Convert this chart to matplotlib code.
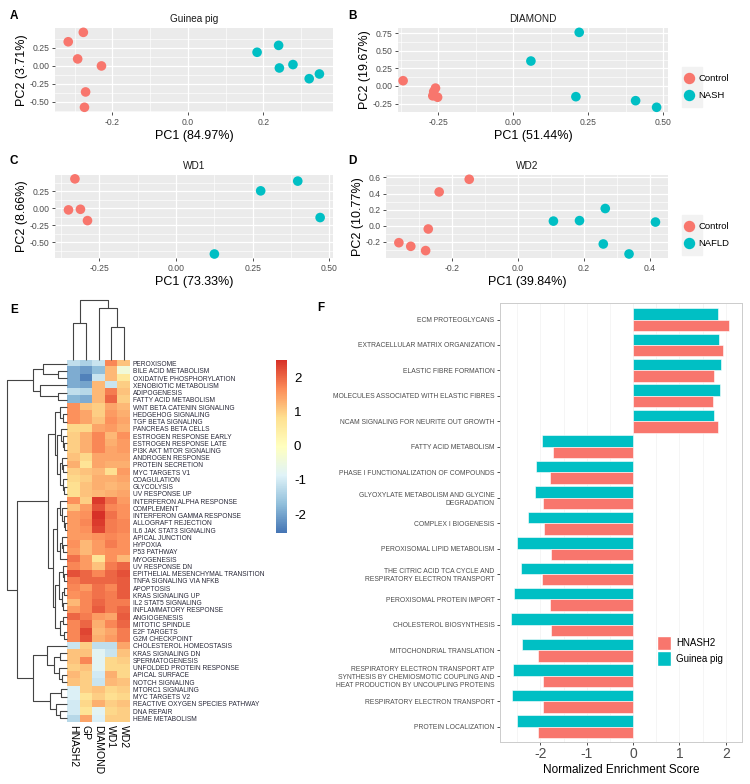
import matplotlib
matplotlib.use("Agg")
import matplotlib.pyplot as plt
import numpy as np
from matplotlib.colors import LinearSegmentedColormap, Normalize
from matplotlib.patches import Patch, Rectangle
from matplotlib.lines import Line2D

plt.rcParams['font.family'] = ['Liberation Sans', 'DejaVu Sans']

W, H = 750, 784
RED = '#F8766D'
TEAL = '#00BFC4'

# ---- PCA panels (PC1, PC2) ----
gp_ctrl_x = [-0.277, -0.317, -0.292, -0.229, -0.271, -0.274]
gp_ctrl_y = [0.46, 0.33, 0.093, -0.004, -0.363, -0.575]
gp_nash_x = [0.183, 0.240, 0.242, 0.278, 0.321, 0.348]
gp_nash_y = [0.185, 0.28, -0.032, 0.015, -0.18, -0.115]

dia_ctrl_x = [-0.367, -0.259, -0.265, -0.268, -0.252]
dia_ctrl_y = [0.075, -0.03, -0.08, -0.14, -0.16]
dia_nash_x = [0.22, 0.059, 0.209, 0.408, 0.478]
dia_nash_y = [0.763, 0.355, -0.152, -0.209, -0.303]

wd1_ctrl_x = [-0.33, -0.351, -0.312, -0.289]
wd1_ctrl_y = [0.433, -0.025, -0.016, -0.183]
wd1_nafld_x = [0.397, 0.276, 0.47, 0.125]
wd1_nafld_y = [0.40, 0.256, -0.138, -0.676]

wd2_ctrl_x = [-0.147, -0.238, -0.271, -0.36, -0.324, -0.279]
wd2_ctrl_y = [0.577, 0.42, -0.04, -0.21, -0.255, -0.308]
wd2_nafld_x = [0.108, 0.187, 0.265, 0.417, 0.259, 0.337]
wd2_nafld_y = [0.058, 0.064, 0.214, 0.046, -0.226, -0.35]

# ---- heatmap (E) ----
hallmarks = ["PEROXISOME", "BILE ACID METABOLISM", "OXIDATIVE PHOSPHORYLATION",
             "XENOBIOTIC METABOLISM", "ADIPOGENESIS", "FATTY ACID METABOLISM",
             "WNT BETA CATENIN SIGNALING", "HEDGEHOG SIGNALING", "TGF BETA SIGNALING",
             "PANCREAS BETA CELLS", "ESTROGEN RESPONSE EARLY", "ESTROGEN RESPONSE LATE",
             "PI3K AKT MTOR SIGNALING", "ANDROGEN RESPONSE", "PROTEIN SECRETION",
             "MYC TARGETS V1", "COAGULATION", "GLYCOLYSIS", "UV RESPONSE UP",
             "INTERFERON ALPHA RESPONSE", "COMPLEMENT", "INTERFERON GAMMA RESPONSE",
             "ALLOGRAFT REJECTION", "IL6 JAK STAT3 SIGNALING", "APICAL JUNCTION",
             "HYPOXIA", "P53 PATHWAY", "MYOGENESIS", "UV RESPONSE DN",
             "EPITHELIAL MESENCHYMAL TRANSITION", "TNFA SIGNALING VIA NFKB", "APOPTOSIS",
             "KRAS SIGNALING UP", "IL2 STAT5 SIGNALING", "INFLAMMATORY RESPONSE",
             "ANGIOGENESIS", "MITOTIC SPINDLE", "E2F TARGETS", "G2M CHECKPOINT",
             "CHOLESTEROL HOMEOSTASIS", "KRAS SIGNALING DN", "SPERMATOGENESIS",
             "UNFOLDED PROTEIN RESPONSE", "APICAL SURFACE", "NOTCH SIGNALING",
             "MTORC1 SIGNALING", "MYC TARGETS V2", "REACTIVE OXYGEN SPECIES PATHWAY",
             "DNA REPAIR", "HEME METABOLISM"]
models = ["HNASH2", "GP", "DIAMOND", "WD1", "WD2"]

nes_hnash2 = [-1.2, -1.9, -1.9, -1.9, -1.2, -1.8, 1.6, 1.6, 1.6, 0.9, 1.0, 1.0, 1.0, 1.1, 1.3,
              1.0, 0.9, 0.8, 0.8, 1.6, 1.1, 1.5, 1.5, 1.5, 1.5, 1.6, 1.5, 1.9, 1.7, 2.2, 1.8,
              1.7, 1.6, 1.2, 1.5, 2.0, 1.7, 1.7, 1.7, -1.1, 1.1, 1.1, 1.0, 1.2, 1.1, -0.9,
              -0.9, -1.0, -1.0, -1.3]
nes_gp = [-1.4, -2.1, -2.4, -2.0, -1.3, -1.9, 1.1, 1.4, 1.4, 0.9, 1.3, 1.3, 1.3, 0.9, 0.7,
          1.1, 1.0, 1.1, 1.1, 1.0, 1.5, 1.6, 1.7, 1.6, 1.5, 1.2, 1.2, 1.5, 1.5, 2.0, 2.0,
          1.5, 1.7, 1.7, 1.7, 1.8, 2.0, 2.3, 2.2, 1.0, 1.1, 1.7, 1.1, 1.0, 1.0, 1.0, 0.7,
          0.9, 0.7, 1.4]
nes_diamond = [-1.1, -1.7, -1.1, 1.2, 1.2, 1.2, 1.0, 1.0, 1.1, 1.4, 1.7, 1.7, 1.7, 1.4, 1.4,
               1.2, 1.3, 1.3, 1.2, 2.4, 2.2, 2.5, 2.4, 2.3, 1.6, 1.5, 1.5, 0.7, 1.1, 1.7, 2.0,
               1.9, 1.9, 2.0, 2.1, 1.5, 1.3, 1.2, 1.3, -1.2, -0.8, -0.8, -0.8, -1.0, -1.1,
               1.1, 1.0, 1.3, -0.8, -0.9]
nes_wd1 = [1.7, 1.2, 1.2, -1.1, 1.8, 2.0, 1.4, 1.5, 1.6, 1.5, 1.2, 1.3, 1.4, 1.4, 1.3, 0.8,
           1.3, 1.2, 1.3, 1.9, 1.7, 1.9, 1.8, 1.8, 1.7, 1.8, 1.6, 1.6, 1.8, 2.0, 2.0, 1.7,
           1.8, 1.8, 1.8, 1.4, 1.7, 1.4, 1.5, -1.2, -1.1, 0.9, 0.9, 1.3, 1.2, 0.9, 0.8, 1.0,
           0.9, 1.0]
nes_wd2 = [1.1, -0.4, 0.6, 1.0, 1.1, 1.0, 1.2, 1.3, 1.4, 1.3, 1.6, 1.5, 1.5, 1.4, 1.3, 1.5,
           1.4, 1.3, 1.4, 1.5, 1.6, 1.6, 1.7, 1.7, 1.6, 1.6, 1.6, 1.2, 2.0, 2.2, 2.1, 2.1,
           2.1, 1.8, 2.0, 2.1, 2.0, 1.8, 1.8, 1.4, 1.1, 1.0, 0.9, 0.9, 1.1, 1.0, 0.9, 1.1,
           1.0, 1.0]

# dendrograms: (merge height, left, right); leaves are row / column indices
row_tree = (1.0,
            (0.57, (0.40, 0, (0.15, 1, 2)), (0.45, 3, (0.15, 4, 5))),
            (0.83,
             (0.32,
              (0.20, (0.12, 6, (0.07, 7, 8)),
               (0.17, (0.10, 9, (0.07, 10, (0.05, 11, 12))),
                (0.12, (0.08, 13, (0.06, 14, 15)), (0.07, 16, (0.05, 17, 18))))),
              (0.24,
               (0.17, (0.11, 19, (0.08, 20, (0.05, 21, (0.04, 22, 23)))),
                (0.12, (0.08, 24, (0.06, 25, 26)), 27)),
               (0.20, (0.13, (0.07, 28, (0.05, 29, 30)),
                       (0.09, (0.05, 31, 32), (0.06, 33, 34))),
                (0.11, (0.07, 35, 36), (0.05, 37, 38))))),
             (0.57, (0.33, 39, (0.22, (0.12, 40, 41), (0.13, 42, (0.08, 43, 44)))),
              (0.28, (0.10, 45, 46), (0.18, 47, (0.12, 48, 49))))))
col_tree = (1.0, (0.62, 0, 1), (0.87, 2, (0.55, 3, 4)))

# ---- NES bar chart (F) ----
pathways = ["ECM PROTEOGLYCANS", "EXTRACELLULAR MATRIX ORGANIZATION",
            "ELASTIC FIBRE FORMATION", "MOLECULES ASSOCIATED WITH ELASTIC FIBRES",
            "NCAM SIGNALING FOR NEURITE OUT GROWTH", "FATTY ACID METABOLISM",
            "PHASE I FUNCTIONALIZATION OF COMPOUNDS",
            "GLYOXYLATE METABOLISM AND GLYCINE\nDEGRADATION", "COMPLEX I BIOGENESIS",
            "PEROXISOMAL LIPID METABOLISM",
            "THE CITRIC ACID TCA CYCLE AND\nRESPIRATORY ELECTRON TRANSPORT",
            "PEROXISOMAL PROTEIN IMPORT", "CHOLESTEROL BIOSYNTHESIS",
            "MITOCHONDRIAL TRANSLATION",
            "RESPIRATORY ELECTRON TRANSPORT ATP\nSYNTHESIS BY CHEMIOSMOTIC COUPLING AND\n"
            "HEAT PRODUCTION BY UNCOUPLING PROTEINS",
            "RESPIRATORY ELECTRON TRANSPORT", "PROTEIN LOCALIZATION"]
nes_guinea = [1.83, 1.85, 1.89, 1.87, 1.74, -1.96, -2.09, -2.11, -2.26, -2.50, -2.41,
              -2.56, -2.63, -2.40, -2.58, -2.61, -2.50]
nes_hnash2_f = [2.07, 1.94, 1.74, 1.72, 1.83, -1.72, -1.79, -1.95, -1.93, -1.78, -1.96,
                -1.80, -1.78, -2.04, -1.94, -1.94, -2.06]


def px_box(l, t, r, b):
    return [l / W, 1 - b / H, (r - l) / W, (b - t) / H]


def minor_of(ticks, lo, hi):
    step = ticks[1] - ticks[0]
    m = [t + step / 2 for t in ticks] + [ticks[0] - step / 2]
    return [v for v in m if lo <= v <= hi]


def pca_panel(box, cx, cy, nx, ny, xlim, ylim, xt, yt, xd, yd, title, xlab, ylab):
    ax = fig.add_axes(px_box(*box))
    ax.set_facecolor('#EBEBEB')
    ax.set_xlim(xlim)
    ax.set_ylim(ylim)
    ax.set_xticks(xt)
    ax.set_xticklabels([f"{v:.{xd}f}" for v in xt])
    ax.set_yticks(yt)
    ax.set_yticklabels([f"{v:.{yd}f}" for v in yt])
    ax.set_xticks(minor_of(xt, *xlim), minor=True)
    ax.set_yticks(minor_of(sorted(yt), *ylim), minor=True)
    ax.grid(which='major', color='white', lw=0.9)
    ax.grid(which='minor', color='white', lw=0.45)
    ax.set_axisbelow(True)
    for s in ax.spines.values():
        s.set_visible(False)
    ax.tick_params(which='major', length=2.5, width=0.6, color='#333333',
                   labelsize=6.2, labelcolor='#4D4D4D', pad=1.5)
    ax.tick_params(which='minor', length=0)
    ax.scatter(cx, cy, s=48, color=RED, edgecolors='none', zorder=3, clip_on=False)
    ax.scatter(nx, ny, s=48, color=TEAL, edgecolors='none', zorder=3, clip_on=False)
    ax.set_title(title, fontsize=7.2, pad=4, color='#1A1A1A')
    ax.set_xlabel(xlab, fontsize=9, labelpad=2.5)
    ax.set_ylabel(ylab, fontsize=9, labelpad=1)
    return ax


def pca_legend(top, labels):
    fig.add_artist(Rectangle((682 / W, 1 - (top + 40) / H), 20 / W, 40 / H,
                             transform=fig.transFigure, color='#F2F2F2', zorder=0))
    handles = [Line2D([], [], marker='o', ls='', color=c, markersize=7.2, label=l)
               for c, l in zip([RED, TEAL], labels)]
    fig.legend(handles=handles, loc='center left', bbox_to_anchor=(684 / W, 1 - (top + 20) / H),
               frameon=False, fontsize=6.8, handlelength=1.0, handletextpad=0.5,
               labelspacing=0.85, borderpad=0, borderaxespad=0)


def draw_tree(ax, node, horizontal):
    if isinstance(node, int):
        return node, 0.0
    h, left, right = node
    cl, hl = draw_tree(ax, left, horizontal)
    cr, hr = draw_tree(ax, right, horizontal)
    a = [hl, h, h, hr]
    b = [cl, cl, cr, cr]
    if horizontal:
        ax.plot(a, b, color='#444444', lw=0.8, clip_on=False, solid_capstyle='butt')
    else:
        ax.plot(b, a, color='#444444', lw=0.8, clip_on=False, solid_capstyle='butt')
    return (cl + cr) / 2, h


fig = plt.figure(figsize=(W / 100, H / 100), dpi=100)

pca_panel((55, 28, 333, 112), gp_ctrl_x, gp_ctrl_y, gp_nash_x, gp_nash_y,
          (-0.352, 0.384), (-0.64, 0.52), [-0.2, 0.0, 0.2], [0.25, 0.0, -0.25, -0.5], 1, 2,
          "Guinea pig", "PC1 (84.97%)", "PC2 (3.71%)")
pca_panel((398, 28, 668, 112), dia_ctrl_x, dia_ctrl_y, dia_nash_x, dia_nash_y,
          (-0.384, 0.516), (-0.37, 0.825), [-0.25, 0.0, 0.25, 0.5],
          [0.75, 0.5, 0.25, 0.0, -0.25], 2, 2, "DIAMOND", "PC1 (51.44%)", "PC2 (19.67%)")
pca_panel((55, 175, 333, 258), wd1_ctrl_x, wd1_ctrl_y, wd1_nafld_x, wd1_nafld_y,
          (-0.395, 0.512), (-0.735, 0.49), [-0.25, 0.0, 0.25, 0.5], [0.25, 0.0, -0.25, -0.5],
          2, 2, "WD1", "PC1 (73.33%)", "PC2 (8.66%)")
pca_panel((386, 175, 668, 258), wd2_ctrl_x, wd2_ctrl_y, wd2_nafld_x, wd2_nafld_y,
          (-0.399, 0.455), (-0.4, 0.63), [-0.2, 0.0, 0.2, 0.4], [0.6, 0.4, 0.2, 0.0, -0.2],
          1, 1, "WD2", "PC1 (39.84%)", "PC2 (10.77%)")
pca_legend(67, ["Control", "NASH"])
pca_legend(215, ["Control", "NAFLD"])

# heatmap
pal = ['#4575B4', '#91BFDB', '#E0F3F8', '#FFFFBF', '#FEE090', '#FC8D59', '#D73027']
cmap = LinearSegmentedColormap.from_list('rdylbu_r', pal)
mat = np.column_stack([nes_hnash2, nes_gp, nes_diamond, nes_wd1, nes_wd2])
axh = fig.add_axes(px_box(67, 360, 130, 722))
im = axh.imshow(mat, cmap=cmap, norm=Normalize(-2.55, 2.5), aspect='auto',
                interpolation='nearest')
axh.yaxis.tick_right()
axh.set_yticks(range(len(hallmarks)))
axh.set_yticklabels(hallmarks, fontsize=4.75, color='#2A2A3A')
axh.set_xticks(range(len(models)))
axh.set_xticklabels(models, rotation=270, fontsize=7.5, va='top', ha='center')
axh.tick_params(length=0, pad=2)
for s in axh.spines.values():
    s.set_visible(False)

axr = fig.add_axes(px_box(5, 360, 67, 722))
draw_tree(axr, row_tree, True)
axr.set_ylim(len(hallmarks) - 0.5, -0.5)
axr.set_xlim(62 / 60, 0)
axr.axis('off')

axc = fig.add_axes(px_box(67, 300, 130, 360))
draw_tree(axc, col_tree, False)
axc.set_xlim(-0.5, len(models) - 0.5)
axc.set_ylim(0, 1.0)
axc.axis('off')

cax = fig.add_axes(px_box(276, 360, 287, 533))
cb = fig.colorbar(im, cax=cax, ticks=[-2, -1, 0, 1, 2])
cb.outline.set_visible(False)
cb.ax.set_yticklabels(['-2', '-1', '0', '1', '2'])
cax.tick_params(length=0, labelsize=9.5, pad=5)

# bar chart
axf = fig.add_axes(px_box(500, 303, 742, 742))
pos = np.arange(len(pathways))
axf.barh(pos - 0.225, nes_guinea, height=0.45, color=TEAL, edgecolor='white', lw=0.4,
         zorder=2)
axf.barh(pos + 0.225, nes_hnash2_f, height=0.45, color=RED, edgecolor='white', lw=0.4,
         zorder=2)
axf.set_ylim(len(pathways) - 0.4, -0.65)
axf.set_xlim(-2.87, 2.35)
axf.set_xticks([-2, -1, 0, 1, 2])
axf.set_xticklabels(['-2', '-1', '0', '1', '2'])
axf.set_xticks([-2.5, -1.5, -0.5, 0.5, 1.5], minor=True)
axf.grid(axis='x', which='both', color='#F2F2F2', lw=0.5, zorder=0)
axf.set_axisbelow(True)
axf.set_yticks(pos)
axf.set_yticklabels(pathways, fontsize=4.85, color='#4D4D4D', multialignment='right')
axf.tick_params(axis='y', length=2.5, width=0.6, color='#333333', pad=1.5)
axf.tick_params(axis='x', which='major', length=2.5, width=0.6, color='#333333',
                labelsize=10, labelcolor='#4D4D4D', pad=1)
axf.tick_params(axis='x', which='minor', length=0)
for s in axf.spines.values():
    s.set_color('#CCCCCC')
    s.set_linewidth(0.7)
axf.set_xlabel("Normalized Enrichment Score", fontsize=8.5, labelpad=2)
axf.legend(handles=[Patch(facecolor=RED, edgecolor='white', label='HNASH2'),
                    Patch(facecolor=TEAL, edgecolor='white', label='Guinea pig')],
           loc='upper left', bbox_to_anchor=(657 / W, 1 - 636 / H),
           bbox_transform=fig.transFigure, frameon=False, fontsize=7,
           handlelength=1.4, handleheight=1.9, handletextpad=0.6, labelspacing=0.1,
           borderpad=0, borderaxespad=0)

for letter, x, y in [('A', 10, 16), ('B', 348, 16), ('C', 10, 161), ('D', 348, 161),
                     ('E', 10, 310), ('F', 317, 308)]:
    fig.text(x / W, 1 - y / H, letter, fontsize=8.5, fontweight='bold', va='center')

fig.savefig('out.png', dpi=100)
